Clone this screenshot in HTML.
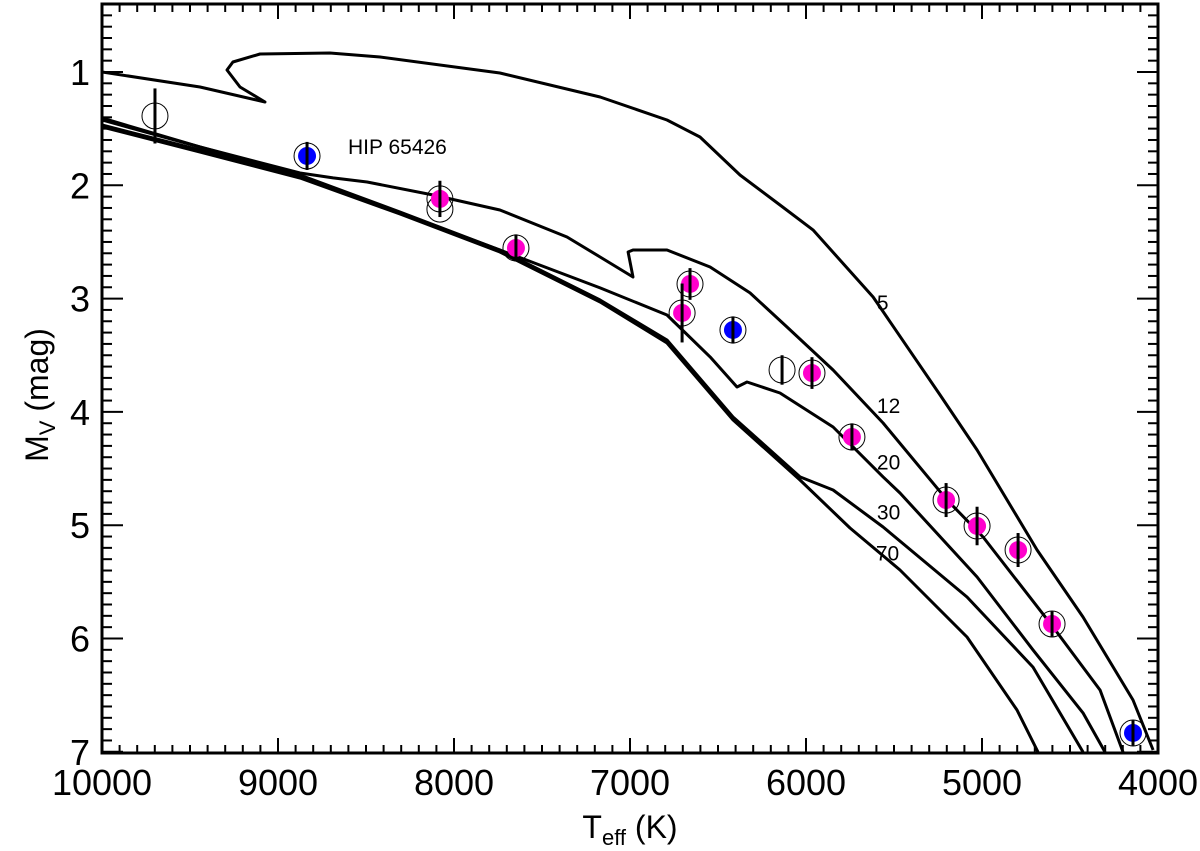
<!DOCTYPE html>
<html><head><meta charset="utf-8"><style>
html,body{margin:0;padding:0;background:#fff;}
svg{display:block;font-family:"Liberation Sans",Arial,sans-serif;}
</style></head><body>
<svg id="chart" width="1200" height="851" viewBox="0 0 1200 851" xmlns="http://www.w3.org/2000/svg">
<defs><clipPath id="clip"><rect x="102" y="4" width="1056" height="749"/></clipPath></defs>
<g id="curves" clip-path="url(#clip)"></g>
<g id="pts"></g>
<g id="axes"></g>
<text x="348" y="154" font-size="21">HIP 65426</text>
<text x="630" y="838" font-size="32" text-anchor="middle">T<tspan font-size="22" dy="7">eff</tspan><tspan dy="-7"> (K)</tspan></text>
<text transform="translate(48,395) rotate(-90)" font-size="32" text-anchor="middle">M<tspan font-size="22" dy="7">V</tspan><tspan dy="-7"> (mag)</tspan></text>
</svg>
<script>
const xTicks=[10000,9000,8000,7000,6000,5000,4000];
const yTicks=[1,2,3,4,5,6,7];
const ages=["5","12","20","30","70"];
const ageLabelT=[5597,5597,5597,5597,5603];
const ageLabelM=[3.10,4.01,4.51,4.95,5.31];
const c5T=[10000,9443,9074,9216,9290,9256,9102,8705,8420,7739,7170,6790,6602,6375,6148,5960,5619,5238,5028,4687,4426,4142,4028];
const c5M=[1.0,1.132,1.265,1.132,0.982,0.912,0.841,0.832,0.868,1.009,1.221,1.424,1.574,1.909,2.174,2.394,2.986,3.851,4.336,5.219,5.810,6.543,6.984];
const c12T=[10000,9443,8875,8687,8494,8119,7739,7358,7170,6983,7011,6983,6790,6545,6318,6108,5846,5562,5199,4994,4596,4329,4199];
const c12M=[1.406,1.662,1.891,1.935,1.971,2.086,2.218,2.456,2.633,2.809,2.589,2.571,2.571,2.721,2.950,3.251,3.630,4.098,4.777,5.104,5.899,6.455,7.002];
const c20T=[10000,9443,8875,8307,7739,7170,6790,6545,6392,6335,6148,5846,5562,5466,5028,4710,4426,4301];
const c20M=[1.424,1.662,1.909,2.236,2.571,2.906,3.145,3.515,3.780,3.736,3.833,4.133,4.574,4.716,5.457,6.101,6.657,7.002];
const c30T=[10000,9443,8875,8307,7739,7170,6790,6415,6034,5846,5562,5085,4710,4426];
const c30M=[1.468,1.688,1.927,2.244,2.571,3.012,3.365,4.045,4.574,4.689,5.016,5.634,6.252,7.002];
const c70T=[10000,9443,8875,8307,7739,7170,6790,6415,6034,5750,5466,5085,4801,4682];
const c70M=[1.485,1.706,1.936,2.253,2.589,3.030,3.392,4.071,4.601,5.025,5.395,5.987,6.631,7.002];
const starT=[9699,8835,8080,8080,7648,6659,6704,6415,6136,5966,5739,5204,5028,4795,4602,4142];
const starM=[1.388,1.741,2.21,2.12,2.553,2.871,3.127,3.277,3.63,3.657,4.221,4.778,5.007,5.219,5.872,6.834];
const starErr=[0.243,0.124,0,0.16,0.12,0.14,0.26,0.12,0.13,0.14,0.12,0.15,0.17,0.15,0.11,0.11];
const starType=["open","blue","open","pink","pink","pink","pink","blue","open","pink","pink","pink","pink","pink","pink","blue"];

const NS="http://www.w3.org/2000/svg";
const X=t=>102+(10000-t)*0.176;
const Y=m=>72+(m-1)*113.3;
function mk(tag,attrs,parent){const e=document.createElementNS(NS,tag);for(const k in attrs)e.setAttribute(k,attrs[k]);parent.appendChild(e);return e;}
const curves=document.getElementById('curves');
[[c5T,c5M],[c12T,c12M],[c20T,c20M],[c30T,c30M],[c70T,c70M]].forEach((c,i)=>{
 const d=c[0].map((t,j)=>(j?'L':'M')+X(t).toFixed(1)+','+Y(c[1][j]).toFixed(1)).join(' ');
 const p=mk('path',{d:d,fill:'none',stroke:'#000','stroke-width':3,'stroke-linejoin':'round'},curves);
 
 
});
const svg=document.getElementById('chart');
ages.forEach((a,i)=>{
 const t=mk('text',{x:X(ageLabelT[i]),y:Y(ageLabelM[i]),'font-size':21},svg);
 t.textContent=a;
 
 
});
const pts=document.getElementById('pts');
starT.forEach((t,i)=>{
 const g=mk('g',{},pts);
 
 
 const x=X(t),y=Y(starM[i]);
 mk('circle',{cx:x,cy:y,r:13,fill:'none',stroke:'#000','stroke-width':1},g);
 if(starType[i]==='open'&&starErr[i]===0)return;
 if(starType[i]!=='open')mk('circle',{cx:x,cy:y,r:9,fill:starType[i]==='blue'?'#0000ff':'#ff00cc'},g);
 mk('line',{x1:x,x2:x,y1:y-starErr[i]*113.3,y2:y+starErr[i]*113.3,stroke:'#000','stroke-width':3},g);
});
const ax=document.getElementById('axes');
mk('rect',{x:102,y:4,width:1056,height:749,fill:'none',stroke:'#000','stroke-width':3},ax);
for(let t=10000;t>=4000;t-=100){const x=X(t);const maj=t%1000===0;const L=maj?15:8;
 mk('line',{x1:x,x2:x,y1:753,y2:753-L,stroke:'#000','stroke-width':2},ax);
 mk('line',{x1:x,x2:x,y1:4,y2:4+L,stroke:'#000','stroke-width':2},ax);}
for(let k=4;k<=70;k++){const m=k/10;const y=Y(m);if(y<4||y>753)continue;const maj=k%10===0;const L=maj?21:10;
 mk('line',{x1:102,x2:102+L,y1:y,y2:y,stroke:'#000','stroke-width':2},ax);
 mk('line',{x1:1158,x2:1158-L,y1:y,y2:y,stroke:'#000','stroke-width':2},ax);}
xTicks.forEach(t=>{const e=mk('text',{x:X(t),y:795,'font-size':36,'text-anchor':'middle'},ax);e.textContent=t;
 
 });
yTicks.forEach(m=>{const e=mk('text',{x:90,y:Y(m)+13,'font-size':36,'text-anchor':'end'},ax);e.textContent=m;
 
 });
</script>
</body></html>
